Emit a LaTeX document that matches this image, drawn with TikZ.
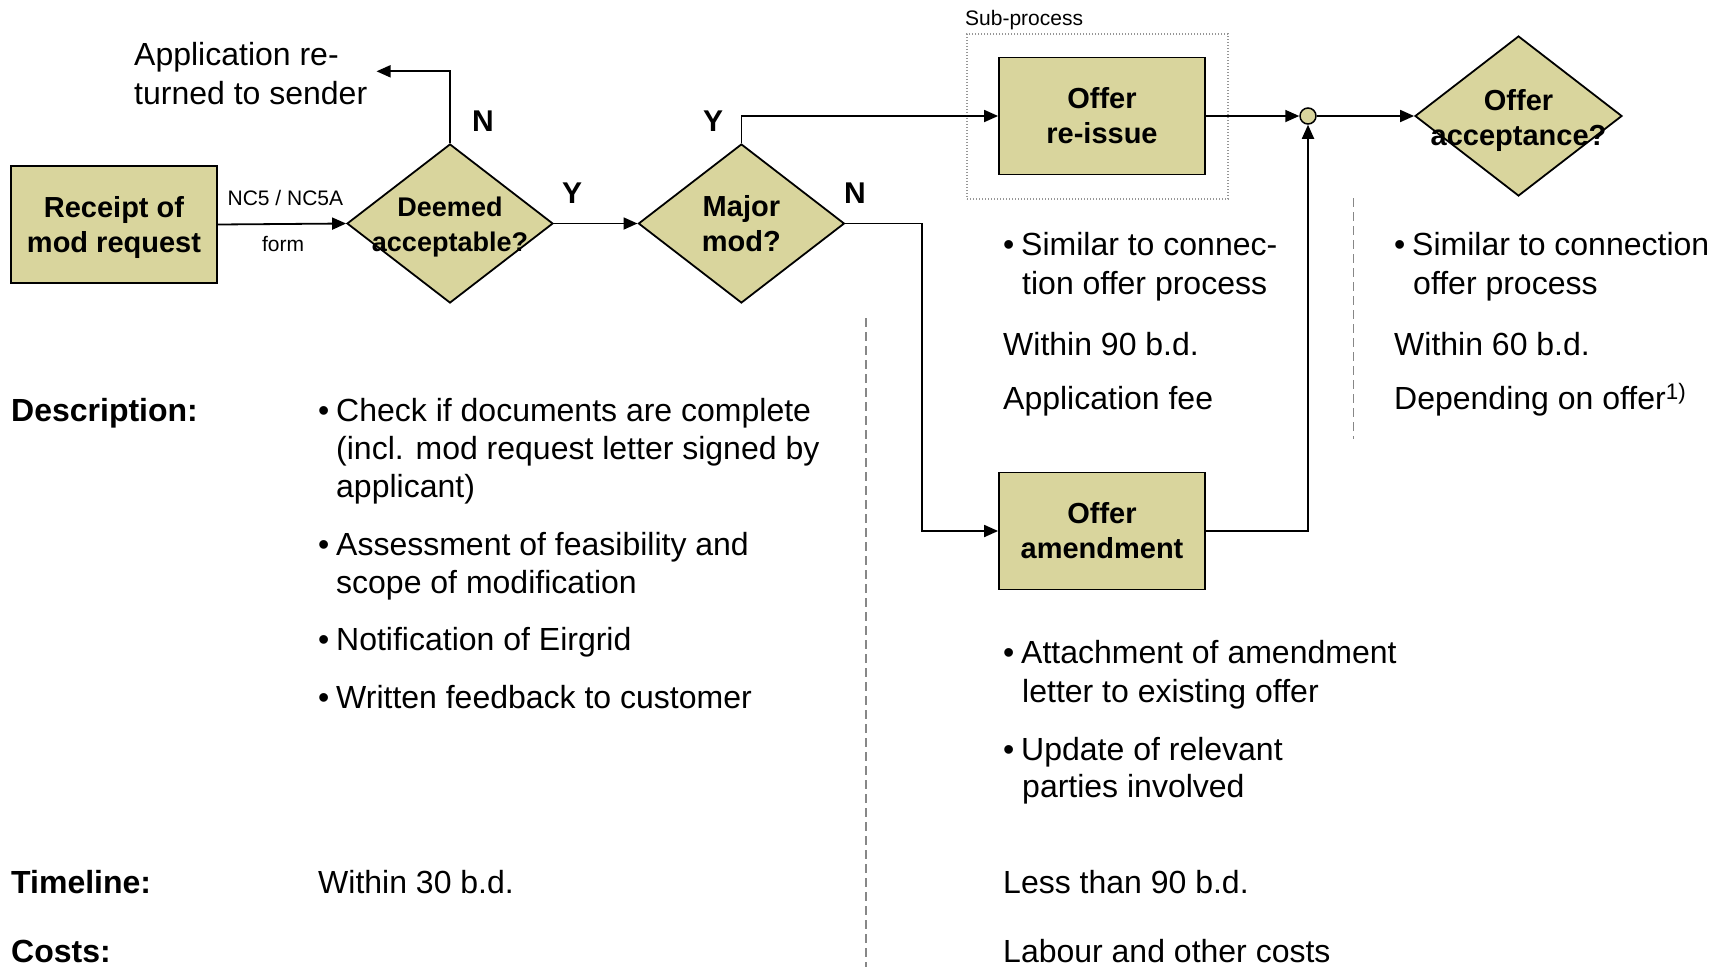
\documentclass[tikz,border=0pt]{standalone}
\usepackage{fontspec}
\setmainfont{Liberation Sans}
\usetikzlibrary{shapes.geometric,arrows.meta}
\definecolor{khaki}{RGB}{217,213,157}
\definecolor{dashgray}{RGB}{135,135,135}
\definecolor{dotgray}{RGB}{150,150,150}
\newcommand{\bul}{\makebox[18pt][l]{•}}
\newcommand{\nodp}[1]{\raisebox{0pt}[\height][0pt]{#1}}
\begin{document}
\begin{tikzpicture}[x=1pt,y=-1pt,
  proc/.style={draw=black,line width=1.8pt,fill=khaki,minimum width=206pt,minimum height=117pt,inner sep=0pt,align=center,font=\fontsize{29}{35}\selectfont\bfseries},
  dia/.style={diamond,draw=black,line width=1.8pt,fill=khaki,minimum width=206pt,minimum height=159pt,inner sep=0pt},
  dtext/.style={align=center,font=\fontsize{29}{35}\selectfont\bfseries,inner sep=0pt},
  flow/.style={line width=1.8pt,-{Triangle[length=14pt,width=12pt]}},
  yn/.style={font=\fontsize{30}{36}\selectfont\bfseries,inner sep=0pt},
  body/.style={font=\fontsize{32}{38}\selectfont,inner sep=0pt,anchor=base west},
  head/.style={font=\fontsize{32}{38}\selectfont\bfseries,inner sep=0pt,anchor=base west},
  small/.style={font=\fontsize{21}{25}\selectfont,inner sep=0pt},
  sep/.style={draw=dashgray,line width=1.6pt,dash pattern=on 9pt off 5pt},
  subbox/.style={draw=dotgray,line width=1.3pt,dash pattern=on 1.4pt off 1.6pt,minimum width=261pt,minimum height=165pt,inner sep=0pt},
]
\useasboundingbox (0,0) rectangle (1721,967);

% sub-process frame
\node[subbox] (sub) at (1097.5,116.4) {};
\node[small,anchor=base west] (sublbl) at (965,25) {Sub-process};

% process nodes
\node[proc] (rec) at (114,224.5) {Receipt of\\\nodp{mod request}};
\node[dia] (deemed) at (450,223.5) {};
\node[dtext,font=\fontsize{27}{35}\selectfont\bfseries] (deemedt) at (450,224.5) {Deemed\\\nodp{acceptable?}};
\node[dia] (major) at (741.4,223.5) {};
\node[dtext] (majort) at (741.4,224) {Major\\mod?};
\node[proc] (reissue) at (1102,116) {Offer\\re-issue};
\node[proc] (amend) at (1102,531) {Offer\\amendment};
\node[circle,draw=black,line width=1.5pt,fill=khaki,minimum size=16pt,inner sep=0pt] (junc) at (1308,116) {};
\node[dia,minimum width=207pt,minimum height=160pt] (accept) at (1518.5,116) {};
\node[dtext] (acceptt) at (1518.5,117) {Offer\\\nodp{acceptance?}};

% connectors
\coordinate (ret) at (376.5,71.3);
\coordinate (nbend) at (922,223.5);
\draw[flow] (rec.east) -- (deemed.west);
\draw[flow] (deemed.east) -- (major.west);
\draw[flow] (deemed.north) |- (ret);
\draw[flow] (major.north) |- (reissue.west);
\draw[flow] (major.east) -- (nbend) |- (amend.west);
\draw[flow] (amend.east) -| (junc.south);
\draw[flow] (reissue.east) -- (junc.west);
\draw[flow] (junc.east) -- (accept.west);

% labels on connectors
\node[small] (nclbl) at (285.4,198) {NC5 / NC5A};
\node[small] (formlbl) at (283,244) {form};
\node[yn] (n1) at (483,121) {N};
\node[yn] (y1) at (572,193) {Y};
\node[yn] (y2) at (713,121) {Y};
\node[yn] (n2) at (855,193) {N};

\node[body] (ret1) at (134,65) {Application re-};
\node[body] (ret2) at (134,104) {turned to sender};

% separators
\draw[sep] (866,318) -- (866,967);
\draw[sep] (1353.3,198) -- (1353.3,439);

% left column
\node[head] (hdesc) at (11,421) {Description:};
\node[body] (d1a) at (318,421) {\bul Check if documents are complete};
\node[body] (d1b) at (336,459) {(incl. mod request letter signed by};
\node[body] (d1c) at (336,497) {applicant)};
\node[body] (d2a) at (318,555) {\bul Assessment of feasibility and};
\node[body] (d2b) at (336,593) {scope of modification};
\node[body] (d3) at (318,650) {\bul Notification of Eirgrid};
\node[body] (d4) at (318,708) {\bul Written feedback to customer};
\node[head] (htime) at (11,893) {Timeline:};
\node[body] (t1) at (318,893) {Within 30 b.d.};
\node[head] (hcost) at (11,962) {Costs:};

% middle upper column
\node[body] (m1a) at (1003,255) {\bul Similar to connec-};
\node[body] (m1b) at (1022,294) {tion offer process};
\node[body] (m2) at (1003,355) {Within 90 b.d.};
\node[body] (m3) at (1003,409) {Application fee};

% right column
\node[body] (r1a) at (1394,255) {\bul Similar to connection};
\node[body] (r1b) at (1413,294) {offer process};
\node[body] (r2) at (1394,355) {Within 60 b.d.};
\node[body] (r3) at (1394,409) {Depending on offer\textsuperscript{1)}};

% amendment column
\node[body] (a1a) at (1003,663) {\bul Attachment of amendment};
\node[body] (a1b) at (1022,702) {letter to existing offer};
\node[body] (a2a) at (1003,760) {\bul Update of relevant};
\node[body] (a2b) at (1022,797) {parties involved};
\node[body] (a3) at (1003,893) {Less than 90 b.d.};
\node[body] (a4) at (1003,962) {Labour and other costs};
\end{tikzpicture}
\end{document}
